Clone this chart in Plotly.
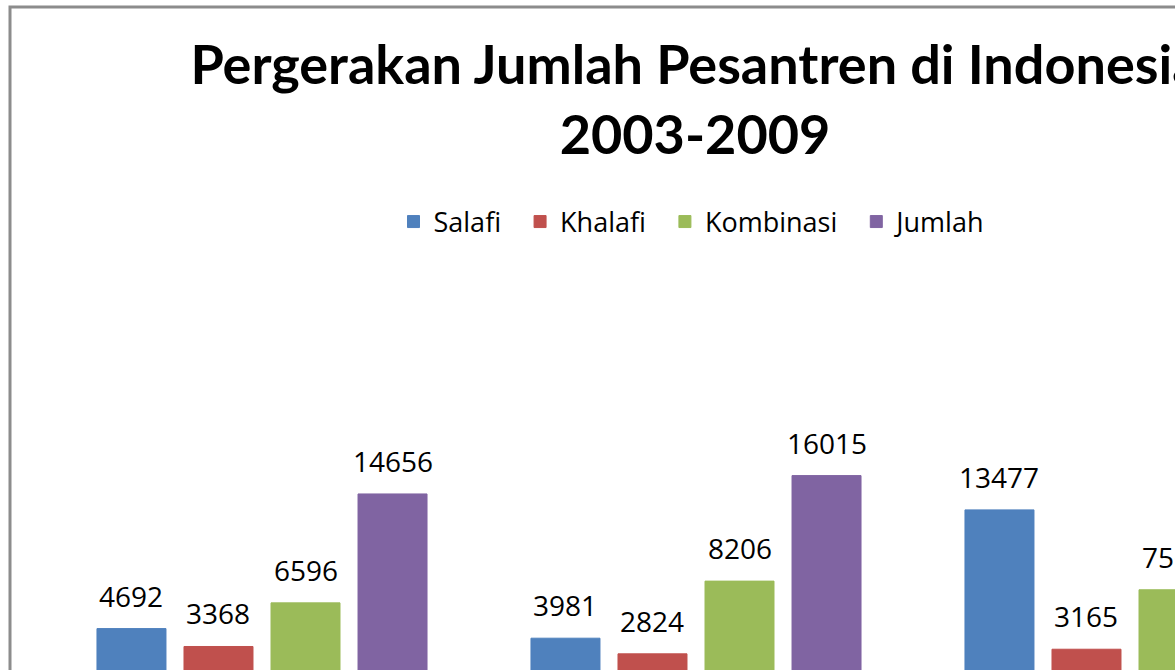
import plotly.graph_objects as go

categories = ["2003-2004", "2005-2006", "2008-2009"]
salafi = [4692, 3981, 13477]
khalafi = [3368, 2824, 3165]
kombinasi = [6596, 8206, 7564]
jumlah = [14656, 16015, 24206]

series = [
    ("Salafi", salafi, "#4F81BD"),
    ("Khalafi", khalafi, "#C0504D"),
    ("Kombinasi", kombinasi, "#9BBB59"),
    ("Jumlah", jumlah, "#8064A2"),
]

W, H = 1175, 670
TOP = 260
k = 74.0          # data units per pixel
zero_px = 692     # pixel row of y=0
CAT_PX = 434      # pixels per category
BARGAP = 0.198
SLOT_PX = CAT_PX * (1 - BARGAP) / len(series)

fig = go.Figure()
annotations = []
for i, (name, vals, color) in enumerate(series):
    fig.add_trace(go.Bar(
        name=name + "\u00a0\u00a0", x=categories, y=vals,
        marker=dict(color=color, line=dict(color=color, width=1)),
    ))
    for c, v in zip(categories, vals):
        annotations.append(dict(
            x=c, y=v, xref="x", yref="y", text=str(v), showarrow=False,
            xanchor="center", yanchor="bottom",
            xshift=(i - (len(series) - 1) / 2) * SLOT_PX, yshift=12,
            font=dict(family="Open Sans", size=28, color="#000000"),
        ))

plot_h = H - TOP
fig.update_layout(
    width=W, height=H,
    margin=dict(l=0, r=0, t=TOP, b=0, pad=0),
    paper_bgcolor="white", plot_bgcolor="white",
    barmode="group", bargap=BARGAP, bargroupgap=0.207,
    font=dict(family="Open Sans", color="#000000"),
    title=dict(
        text="<b>Pergerakan Jumlah Pesantren di Indonesia<br>2003-2009</b>",
        x=695 / W, xanchor="center", xref="container",
        y=1 - 84 / H, yanchor="top", yref="container",
        font=dict(family="Lato", size=54, color="#000000"),
    ),
    legend=dict(
        orientation="h", x=700 / W, xanchor="center",
        y=1 + (TOP - 222) / plot_h, yanchor="middle",
        font=dict(family="Open Sans", size=27, color="#000000"),
    ),
    xaxis=dict(range=[-262 / CAT_PX, -262 / CAT_PX + W / CAT_PX], visible=False),
    yaxis=dict(range=[(zero_px - H) * k, (zero_px - TOP) * k], visible=False),
    annotations=annotations,
    shapes=[dict(
        type="rect", xref="paper", yref="paper",
        x0=10 / W, x1=1.3, y0=-0.5, y1=1 + (TOP - 7) / plot_h,
        line=dict(color="#8C8C8C", width=3), fillcolor="rgba(0,0,0,0)",
        layer="above",
    )],
)

fig.write_html(
    "out.html",
    config={"displayModeBar": False},
    post_script="document.body.style.margin='0';document.body.style.overflow='hidden';",
)
